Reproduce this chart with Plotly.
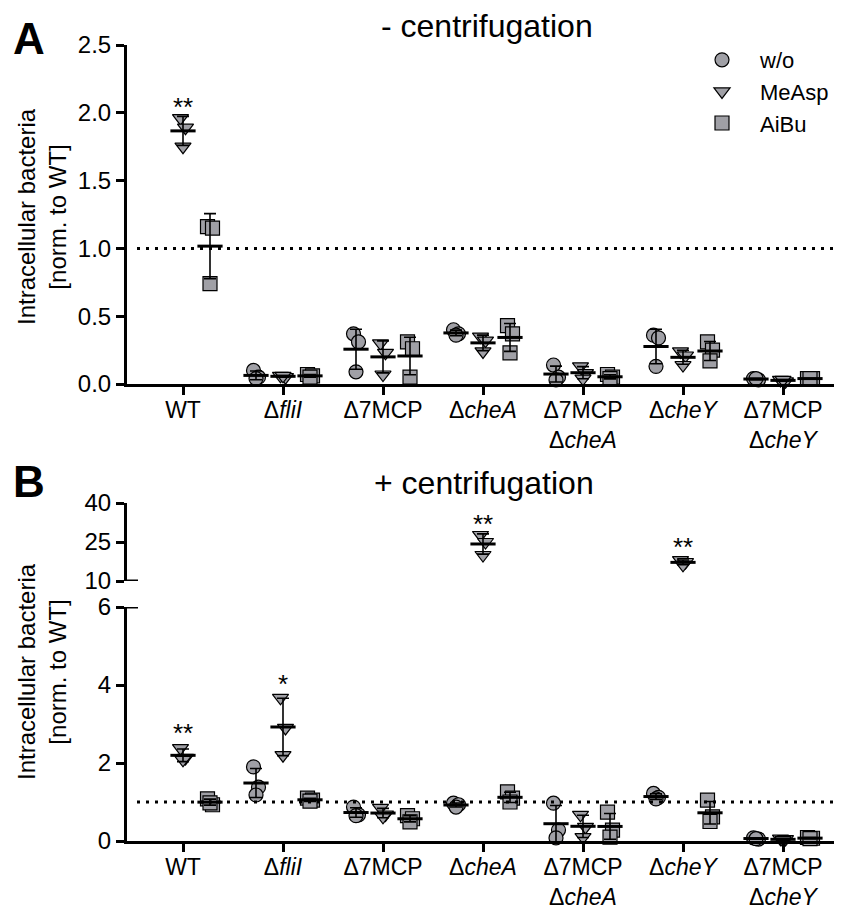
import numpy as np
import plotly.graph_objects as go

# ---------------- data ----------------
CATEGORIES = ["WT", "Δ<i>fliI</i>", "Δ7MCP", "Δ<i>cheA</i>",
              "Δ7MCP<br>Δ<i>cheA</i>", "Δ<i>cheY</i>", "Δ7MCP<br>Δ<i>cheY</i>"]
SERIES = ["w/o", "MeAsp", "AiBu"]

# Panel A: - centrifugation (WT w/o is the normalisation reference, not plotted)
A_WO = [None, [0.10, 0.05, 0.04], [0.37, 0.31, 0.09], [0.40, 0.37, 0.36],
        [0.14, 0.05, 0.03], [0.36, 0.34, 0.13], [0.04, 0.03, 0.04]]
A_MEASP = [[1.96, 1.89, 1.75], [0.06, 0.05, 0.06], [0.30, 0.23, 0.07], [0.35, 0.32, 0.24],
           [0.13, 0.08, 0.04], [0.24, 0.21, 0.14], [0.03, 0.02, 0.03]]
A_AIBU = [[1.16, 1.15, 0.74], [0.07, 0.06, 0.05], [0.31, 0.26, 0.05], [0.43, 0.37, 0.23],
          [0.07, 0.05, 0.04], [0.31, 0.25, 0.17], [0.04, 0.04, 0.04]]

# Panel B: + centrifugation
B_WO = [None, [1.90, 1.38, 1.18], [0.87, 0.67, 0.65], [0.97, 0.93, 0.87],
        [0.97, 0.28, 0.08], [1.22, 1.12, 1.08], [0.08, 0.05, 0.06]]
B_MEASP = [[2.38, 2.13, 2.08], [3.67, 2.90, 2.20], [0.85, 0.68, 0.62], [27.7, 25.0, 20.0],
           [0.67, 0.36, 0.10], [18.0, 17.3, 16.2], [0.06, 0.05, 0.02]]
B_AIBU = [[1.08, 0.93, 0.98], [1.10, 1.05, 1.02], [0.65, 0.57, 0.49], [1.26, 1.10, 1.00],
          [0.74, 0.28, 0.10], [1.05, 0.62, 0.50], [0.09, 0.07, 0.06]]

# significance marks: (category index, series index, text, y position)
A_STARS = [(0, 1, "**", 2.04)]
B_STARS = [(0, 1, "**", 2.77), (1, 1, "*", 4.03), (3, 1, "**", 32.0), (5, 1, "**", 23.2)]

A_TICKS = [0, 0.5, 1.0, 1.5, 2.0, 2.5]
B_TICKS_LOW = [0, 2, 4, 6]
B_TICKS_HIGH = [10, 25, 40]
REFERENCE = 1.0

# ---------------- style ----------------
FONT = "Liberation Sans, Arial, sans-serif"
FILL = "#a0a0a6"
SYMBOLS = ["circle", "triangle-down", "square"]
SIZES = [14, 14, 14]
OFFSETS = [-0.27, 0.0, 0.27]
SPREAD = [-0.025, 0.025, 0.0]
W, H = 842, 908
PAGE_OFF = 8  # default body margin of the html page
XL = 127  # y-axis position in screen px


def px_x(p):
    return (p - PAGE_OFF) / W


def px_y(p):
    return 1 - (p - PAGE_OFF) / H


fig = go.Figure()


def add_panel(series_data, xaxis, yaxis_low, yaxis_high=None, split=None, legend=False):
    for s, data in enumerate(series_data):
        groups = {"low": ([], []), "high": ([], [])}
        means = {"low": ([], [], []), "high": ([], [], [])}
        for ci, vals in enumerate(data):
            if vals is None:
                continue
            key = "high" if (split is not None and np.mean(vals) > split) else "low"
            for k, v in enumerate(vals):
                groups[key][0].append(ci + OFFSETS[s] + SPREAD[k])
                groups[key][1].append(v)
            means[key][0].append(ci + OFFSETS[s])
            means[key][1].append(float(np.mean(vals)))
            means[key][2].append(float(np.std(vals, ddof=1)))
        for key, ya in (("low", yaxis_low), ("high", yaxis_high)):
            xs, ys = groups[key]
            if not xs:
                continue
            fig.add_trace(go.Scatter(
                x=xs, y=ys, mode="markers", name=SERIES[s],
                xaxis=xaxis, yaxis=ya, cliponaxis=False,
                showlegend=legend and key == "low", legendgroup=SERIES[s],
                marker=dict(symbol=SYMBOLS[s], size=SIZES[s], color=FILL,
                            line=dict(color="black", width=1.2)),
            ))
            mx, my, sd = means[key]
            fig.add_trace(go.Scatter(
                x=mx, y=my, mode="markers", showlegend=False,
                xaxis=xaxis, yaxis=ya, cliponaxis=False, hoverinfo="skip",
                marker=dict(symbol="line-ew", size=18, color="black",
                            line=dict(color="black", width=3)),
                error_y=dict(type="data", array=sd, visible=True,
                             color="black", thickness=1.6, width=6),
            ))


add_panel([A_WO, A_MEASP, A_AIBU], "x", "y", legend=True)
add_panel([B_WO, B_MEASP, B_AIBU], "x2", "y2", "y3", split=6)

axis_common = dict(showline=True, linewidth=3, linecolor="black", ticks="outside",
                   ticklen=8, tickwidth=3, tickcolor="black", showgrid=False,
                   zeroline=False, automargin=False,
                   tickfont=dict(family=FONT, size=24, color="black"))
xaxis_common = dict(axis_common, tickfont=dict(family=FONT, size=23, color="black"),
                    ticklabelstandoff=-5)

xdom = [px_x(XL), px_x(842)]
xr = [(XL - 183) / 100, (842 - 183) / 100]

fig.update_layout(
    template="none",
    width=W, height=H, margin=dict(l=0, r=0, t=0, b=0, pad=0, autoexpand=False),
    paper_bgcolor="white", plot_bgcolor="white",
    font=dict(family=FONT, color="black"),
    xaxis=dict(domain=xdom, range=xr, anchor="y", tickvals=list(range(len(CATEGORIES))),
               ticktext=CATEGORIES, **xaxis_common),
    yaxis=dict(domain=[px_y(384), px_y(45)], range=[0, 2.5], anchor="x",
               tickvals=A_TICKS, tickformat=".1f", **axis_common),
    xaxis2=dict(domain=xdom, range=xr, anchor="y2", tickvals=list(range(len(CATEGORIES))),
                ticktext=CATEGORIES, **xaxis_common),
    yaxis2=dict(domain=[px_y(841), px_y(607)], range=[0, 6], anchor="x2",
                tickvals=B_TICKS_LOW, **axis_common),
    yaxis3=dict(domain=[px_y(581), px_y(503)], range=[10, 40], anchor="x2",
                tickvals=B_TICKS_HIGH, **axis_common),
    legend=dict(x=px_x(684), y=px_y(39), xanchor="left", yanchor="top",
                font=dict(family=FONT, size=22, color="black"),
                bgcolor="rgba(0,0,0,0)", tracegroupgap=0, itemwidth=66,
                borderwidth=0),
    showlegend=True,
)

# reference dotted lines
for ya in ("y", "y2"):
    fig.add_shape(type="line", xref="paper", yref=ya, x0=px_x(137), x1=px_x(842),
                  y0=REFERENCE, y1=REFERENCE,
                  line=dict(color="black", width=3, dash="3px,6px"))

# axis break caps
fig.add_shape(type="line", xref="paper", yref="y3", x0=px_x(XL), x1=px_x(138),
              y0=B_TICKS_HIGH[0], y1=B_TICKS_HIGH[0], line=dict(color="black", width=3))
fig.add_shape(type="line", xref="paper", yref="y2", x0=px_x(XL), x1=px_x(138),
              y0=B_TICKS_LOW[-1], y1=B_TICKS_LOW[-1], line=dict(color="black", width=3))

CENTER = dict(xref="paper", yref="paper", showarrow=False, xanchor="center", yanchor="middle")
ann = []
ann.append(dict(text="<b>A</b>", x=px_x(29), y=px_y(38), font=dict(family=FONT, size=44), **CENTER))
ann.append(dict(text="<b>B</b>", x=px_x(29), y=px_y(482), font=dict(family=FONT, size=44), **CENTER))
ann.append(dict(text="- centrifugation", x=px_x(487), y=px_y(26), font=dict(family=FONT, size=32), **CENTER))
ann.append(dict(text="+ centrifugation", x=px_x(484), y=px_y(483), font=dict(family=FONT, size=32), **CENTER))
for yc in (217, 672):
    ann.append(dict(text="Intracellular bacteria<br>[norm. to WT]", textangle=-90,
                    x=px_x(42), y=px_y(yc), font=dict(family=FONT, size=24), **CENTER))
for ci, s, txt, yv in A_STARS:
    ann.append(dict(text=txt, x=ci + OFFSETS[s], y=yv, xref="x", yref="y", showarrow=False,
                    xanchor="center", yanchor="middle", font=dict(family=FONT, size=26)))
for ci, s, txt, yv in B_STARS:
    ya = "y3" if yv > 6 else "y2"
    ann.append(dict(text=txt, x=ci + OFFSETS[s], y=yv, xref="x2", yref=ya, showarrow=False,
                    xanchor="center", yanchor="middle", font=dict(family=FONT, size=26)))
fig.update_layout(annotations=ann)

fig.write_html("out.html")
